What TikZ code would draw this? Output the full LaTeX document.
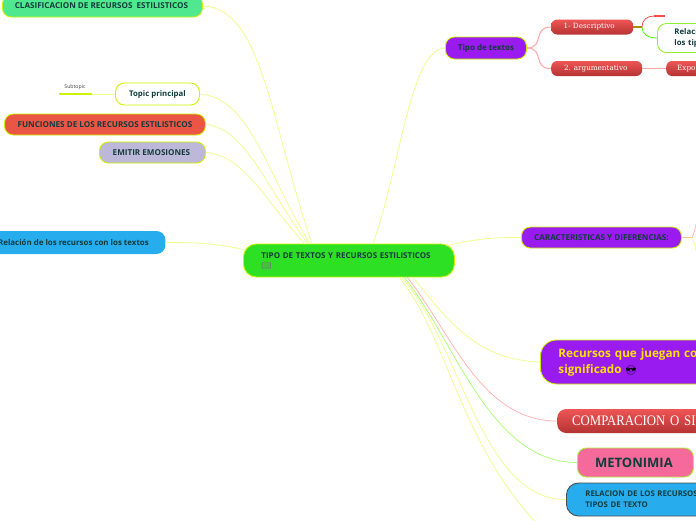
\documentclass[tikz,border=0pt]{standalone}
\usepackage{fontspec}
\setmainfont{Open Sans}
\newfontfamily\slabfont{DejaVu Serif}
\newfontfamily\tallfont[FakeStretch=0.88]{Liberation Serif}
\newfontfamily\emojifont{Noto Emoji}
\definecolor{lim}{HTML}{CBF400}
\definecolor{link}{HTML}{EEFF8C}
\definecolor{dk}{HTML}{123C3C}
\definecolor{redT}{HTML}{EE5555}
\definecolor{redB}{HTML}{B53333}
\definecolor{purp}{HTML}{9A1BF0}
\definecolor{blu}{HTML}{27ACEE}
\tikzset{
 x=1pt,y=-1pt,
 topic/.style={draw=lim,line width=.9pt,rounded corners=9pt,anchor=west,inner sep=0pt,font=\bfseries\fontsize{8.1}{11}\selectfont,text=dk,align=center},
 redbox/.style={rounded corners=6pt,anchor=west,inner sep=0pt,top color=redT,bottom color=redB,text=white,font=\slabfont\fontsize{7.2}{9}\selectfont,align=center},
 conn/.style={draw=link,line width=.75pt},
 pinkconn/.style={draw=red!35,line width=1pt}
}
\begin{document}
\begin{tikzpicture}
\useasboundingbox (0,0) rectangle (696,520);
\clip (0,0) rectangle (696,520);
% nodes
\node[topic,fill={rgb,255:red,80;green,232;blue,143},minimum width=200pt,minimum height=22pt] (clasif) at (2,6) {\hspace*{-2pt}CLASIFICACION DE RECURSOS\ \ ESTILISTICOS};
\node[topic,fill=white,minimum width=84pt,minimum height=22pt,font=\bfseries\fontsize{7.8}{11}\selectfont] (topicp) at (115,94) {Topic principal};
\node[font=\fontsize{5.2}{6}\selectfont,text=black!75,inner sep=0pt] (sub) at (75,87) {Subtopic};
\coordinate (subL) at (59,94);
\coordinate (subR) at (92,94);
\node[topic,fill={rgb,255:red,235;green,85;blue,69},minimum width=201pt,minimum height=21pt] (func) at (4,124.5) {FUNCIONES DE LOS RECURSOS ESTILISTICOS};
\node[topic,fill={rgb,255:red,189;green,183;blue,218},minimum width=106pt,minimum height=21pt] (emitir) at (99,152.5) {\hspace*{-2pt}EMITIR EMOSIONES};
\node[topic,draw=none,fill=blu,minimum width=185pt,minimum height=23pt,font=\bfseries\fontsize{7.9}{11}\selectfont] (rel) at (-20,242.5) {\hspace*{1pt}Relación de los recursos con los textos};
\node[topic,fill={rgb,255:red,46;green,224;blue,36},rounded corners=13pt,minimum width=211pt,minimum height=33pt,text width=175pt,align=left,font=\bfseries\fontsize{8}{11}\selectfont] (central) at (243,260.5) {TIPO DE TEXTOS Y RECURSOS ESTILISTICOS\\[-1pt]{\emojifont\fontsize{8}{9}\selectfont\textcolor{black!55}{📖}}};
\node[topic,fill=purp,minimum width=81pt,minimum height=22pt,font=\bfseries\fontsize{8}{11}\selectfont] (tipo) at (445,48) {Tipo de textos};
\node[redbox,minimum width=82pt,minimum height=15pt] (desc) at (551,27) {\hspace*{-6pt}1- Descriptivo};
\node[redbox,minimum width=91pt,minimum height=15pt] (arg) at (551,68.5) {\hspace*{-2pt}2. argumentativo};
\node[redbox,minimum width=60pt,minimum height=15pt,text width=38pt,align=left] (expo) at (666,68.5) {Expo};
\node[topic,fill=white,draw={rgb,255:red,144;green,240;blue,48},minimum width=60pt,minimum height=29pt,text width=26pt,align=left,font=\bfseries\fontsize{7.8}{11}\selectfont] (relac) at (657,38) {Relaci\\los tip};
\node[topic,fill=purp,minimum width=160pt,minimum height=21pt] (carac) at (521,237.5) {CARACTERISTICAS Y DIFERENCIAS:};
\node[topic,fill=purp,rounded corners=16pt,text=yellow!85!orange,minimum width=200pt,minimum height=44pt,text width=164pt,align=left,font=\bfseries\fontsize{11.7}{16}\selectfont] (recur) at (540,362) {Recursos que juegan co\\significado {\emojifont\fontsize{9}{9}\selectfont\textcolor{black}{😎}}};
\node[redbox,rounded corners=9pt,minimum width=200pt,minimum height=24pt,text width=170pt,align=left,font=\tallfont\fontsize{14.5}{15}\selectfont] (comp) at (557,421) {COMPARACION O SIM};
\node[topic,draw={rgb,255:red,170;green,240;blue,60},fill={rgb,255:red,245;green,106;blue,154},minimum width=116pt,minimum height=29pt,font=\bfseries\fontsize{13}{15}\selectfont] (meto) at (577,462.5) {\hspace*{-3pt}METONIMIA};
\node[topic,draw=black!70,fill=blu,rounded corners=12pt,minimum width=200pt,minimum height=33pt,text width=162pt,align=left,font=\bfseries\fontsize{7.8}{11}\selectfont] (relrec) at (566,499.5) {RELACION DE LOS RECURSOS\\TIPOS DE TEXTO};
\coordinate (offb) at (548,535);
\coordinate (offr1) at (700,212);
\coordinate (offr2) at (700,262);
% connectors
\draw[conn] (clasif.east) .. controls (262,8) and (270,120) .. (312,244);
\draw[conn] (topicp.east) .. controls (250,98) and (265,170) .. (310,244);
\draw[conn] (func.east) .. controls (245,128) and (265,185) .. (308,244);
\draw[conn] (emitir.east) .. controls (245,155) and (268,205) .. (305,244);
\draw[conn] (tipo.west) .. controls (410,50) and (402,160) .. (373,244);
\draw[conn] (rel.east) .. controls (200,242) and (225,245) .. (245,250);
\draw[conn] (carac.west) .. controls (490,237) and (470,240) .. (446,246);
\draw[conn] (413,277) .. controls (450,325) and (480,360) .. (recur.west);
\draw[draw=red!30,line width=.75pt] (407,277) .. controls (450,330) and (480,421) .. (comp.west);
\draw[draw=green!60!yellow!55,line width=.75pt] (404,277) .. controls (455,340) and (490,463) .. (meto.west);
\draw[conn] (401,277) .. controls (460,340) and (480,500) .. (relrec.west);
\draw[conn] (399,277) .. controls (450,340) and (460,450) .. (offb);
\draw[pinkconn] (tipo.east) .. controls (545,48) and (532,27) .. (desc.west);
\draw[pinkconn] (tipo.east) .. controls (545,48) and (532,69) .. (arg.west);
\draw[pinkconn,line width=1.6pt] (arg.east) -- (expo.west);
\draw[lim!70!red!80!black,line width=1.2pt] (desc.east) -- (642,27);
\draw[red!70,line width=.8pt] (642,27) .. controls (642,20) and (647,16) .. (654,16);
\draw[red!70,line width=1.4pt] (654,16) -- (665,16);
\draw[green!75!yellow,line width=.8pt] (642,27) .. controls (642,34) and (648,38) .. (relac.west);
\draw[orange!45,line width=1.2pt] (carac.east) -- (692,237.5);
\draw[draw=red!30,line width=.75pt] (692,237.5) .. controls (695,232) and (696,222) .. (offr1);
\draw[conn] (692,237.5) .. controls (695,243) and (696,254) .. (offr2);
\draw[lim,line width=1.5pt] (subL) -- (subR);
\draw[conn] (subR) -- (topicp.west);
\end{tikzpicture}
\end{document}
